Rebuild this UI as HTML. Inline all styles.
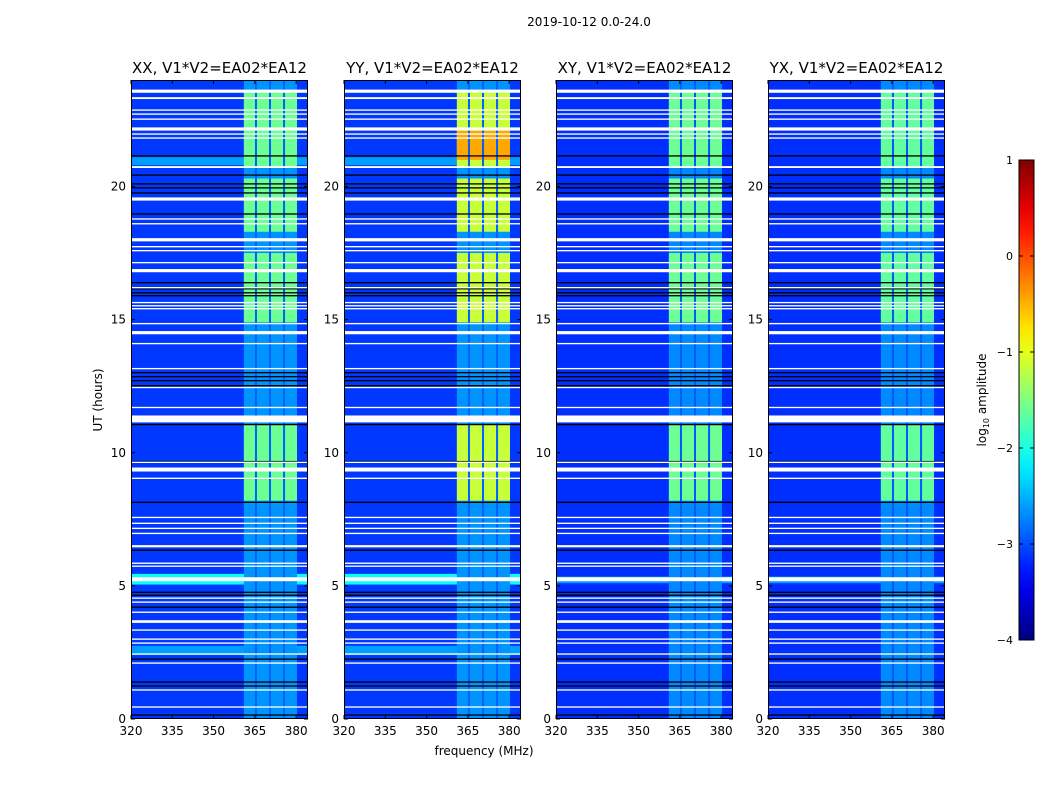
<!DOCTYPE html>
<html><head><meta charset="utf-8">
<style>
body{margin:0;background:#fff;}
svg{display:block;font-family:"DejaVu Sans","Liberation Sans",sans-serif;}
</style></head>
<body>
<svg id="fig" width="1050" height="800" viewBox="0 0 1050 800">
<text x="589" y="26" font-size="12" text-anchor="middle">2019-10-12 0.0-24.0</text>
<text x="484" y="755" font-size="12" text-anchor="middle">frequency (MHz)</text>
<text x="102" y="400" font-size="12" text-anchor="middle" transform="rotate(-90 102 400)">UT (hours)</text>
<g id="panels"></g>
<g id="cbar"></g>
</svg>
<script>
// ---- data ----
const panelTitles = ["XX, V1*V2=EA02*EA12","YY, V1*V2=EA02*EA12","XY, V1*V2=EA02*EA12","YX, V1*V2=EA02*EA12"];
const xTicks = [320,335,350,365,380];
const yTicks = [0,5,10,15,20];
const backgroundLevel = [-3.1,-3.1,-3.15,-3.15];
const rfiWeakLevel = [-2.65,-2.65,-2.7,-2.7];
const rfiStrongLevel = [-1.6,-1.15,-1.6,-1.65];
const rfiStrongSegments = [[8.2,11.05],[14.9,17.5],[18.3,20.3],[20.7,23.6]];
const yyHotSegment = [21.0,22.1];
const yyHotLevel = -0.45;
const rfiBlock = [361,380.3];
const channelGaps = [365.4,370.5,375.6];
const brightRows = [[5.05,5.45,-2.1,[0,1]],[2.4,2.75,-2.6,[0,1]],[20.8,21.1,-2.6,[0,1]],[5.1,5.35,-2.6,[2,3]]];
const flagHours = [23.58,23.32,22.87,22.72,22.53,22.16,21.97,21.82,20.73,19.53,18.78,18.60,18.00,17.74,17.59,17.14,16.84,16.20,15.64,15.52,15.41,14.85,14.51,14.10,13.16,12.45,11.70,11.27,9.64,9.37,9.04,7.57,7.35,7.16,6.97,6.49,5.85,5.74,5.25,4.54,4.39,4.01,3.66,3.34,3.00,2.85,2.44,2.10,1.09,0.45];
const flagWidths = [0.12,0.07,0.05,0.05,0.05,0.12,0.05,0.05,0.07,0.12,0.05,0.05,0.12,0.05,0.05,0.05,0.12,0.05,0.05,0.05,0.05,0.05,0.12,0.05,0.05,0.05,0.05,0.26,0.05,0.15,0.05,0.05,0.05,0.05,0.05,0.08,0.05,0.05,0.15,0.05,0.05,0.05,0.1,0.05,0.05,0.05,0.05,0.05,0.05,0.05];
const blackHours = [21.15,20.43,20.10,19.95,19.76,18.97,16.39,16.16,16.01,15.90,13.01,12.86,12.71,12.52,11.06,9.67,8.14,6.34,4.76,4.65,4.20,2.25,1.39,1.24,0.15];
const cbarTicks = [1,0,-1,-2,-3,-4];

// ---- helpers ----
const NS="http://www.w3.org/2000/svg";
function mk(tag,attrs,parent){const e=document.createElementNS(NS,tag);for(const k in attrs)e.setAttribute(k,attrs[k]);parent.appendChild(e);return e;}
function jet(v){
  let t=(v+4)/5; t=Math.max(0,Math.min(1,t));
  const r=Math.min(1,Math.max(0,1.5-Math.abs(4*t-3)));
  const g=Math.min(1,Math.max(0,1.5-Math.abs(4*t-2)));
  const b=Math.min(1,Math.max(0,1.5-Math.abs(4*t-1)));
  return `rgb(${Math.round(r*255)},${Math.round(g*255)},${Math.round(b*255)})`;
}
const panelX0=[131,344,556,768], panelW=177, yTop=80, yBot=719;
const fMin=320, fMax=384.3, hMax=24;
const panels=document.getElementById('panels');

panelTitles.forEach((title,p)=>{
  const x0=panelX0[p];
  const xs=f=>x0+(f-fMin)/(fMax-fMin)*panelW;
  const ys=h=>yBot-h/hMax*(yBot-yTop);
  const g=mk('g',{},panels);
  
  
  const bg=mk('rect',{x:x0,y:yTop,width:panelW,height:yBot-yTop,fill:jet(backgroundLevel[p])},g);
  
  
  brightRows.forEach(r=>{ if(!r[3].includes(p))return;
    const e=mk('rect',{x:x0,y:ys(r[1]),width:panelW,height:ys(r[0])-ys(r[1]),fill:jet(r[2])},g);
    
    
  });
  const wb=mk('rect',{x:xs(rfiBlock[0]),y:yTop,width:xs(rfiBlock[1])-xs(rfiBlock[0]),height:yBot-yTop,fill:jet(rfiWeakLevel[p])},g);
  
  
  rfiStrongSegments.forEach(s=>{
    const e=mk('rect',{x:xs(rfiBlock[0]),y:ys(s[1]),width:xs(rfiBlock[1])-xs(rfiBlock[0]),height:ys(s[0])-ys(s[1]),fill:jet(rfiStrongLevel[p])},g);
    
    
  });
  if(p===1){
    const e=mk('rect',{x:xs(rfiBlock[0]),y:ys(yyHotSegment[1]),width:xs(rfiBlock[1])-xs(rfiBlock[0]),height:ys(yyHotSegment[0])-ys(yyHotSegment[1]),fill:jet(yyHotLevel)},g);
    
    
  }
  channelGaps.forEach(f=>{
    const e=mk('rect',{x:xs(f)-1,y:yTop,width:2,height:yBot-yTop,fill:jet(backgroundLevel[p]+0.2)},g);
    
    
  });
  blackHours.forEach(h=>{
    const e=mk('rect',{x:x0,y:ys(h)-0.6,width:panelW,height:1.3,fill:'#000'},g);
    
    
  });
  flagHours.forEach((h,i)=>{
    const w=flagWidths[i];
    const e=mk('rect',{x:x0,y:ys(h+w/2),width:panelW,height:ys(h-w/2)-ys(h+w/2),fill:'#fff'},g);
    
    
  });
  const fr=mk('rect',{x:x0+0.5,y:yTop+0.5,width:panelW-1,height:yBot-yTop-1,fill:'none',stroke:'#000','stroke-width':1},g);
  
  
  const t=mk('text',{x:x0+panelW/2,y:73,'font-size':15,'text-anchor':'middle'},g);
  t.textContent=title;
  
  
  xTicks.forEach(v=>{
    const x=xs(v);
    mk('line',{x1:x,x2:x,y1:yBot,y2:yBot-4,stroke:'#000'},g);
    mk('line',{x1:x,x2:x,y1:yTop,y2:yTop+4,stroke:'#000'},g);
    const l=mk('text',{x:x,y:yBot+16,'font-size':12,'text-anchor':'middle'},g);
    l.textContent=v;
    
    
  });
  yTicks.forEach(v=>{
    const y=ys(v);
    mk('line',{x1:x0,x2:x0+4,y1:y,y2:y,stroke:'#000'},g);
    mk('line',{x1:x0+panelW,x2:x0+panelW-4,y1:y,y2:y,stroke:'#000'},g);
    const l=mk('text',{x:x0-5,y:y+4,'font-size':12,'text-anchor':'end'},g);
    l.textContent=v;
    
    
  });
});

const cb=document.getElementById('cbar');
const cbX=1019,cbW=15,cbTop=160,cbBot=640;
const cy=v=>cbBot-(v+4)/5*(cbBot-cbTop);
const defs=mk('defs',{},cb);
const grad=mk('linearGradient',{id:'jetg',x1:0,y1:1,x2:0,y2:0},defs);
for(let i=0;i<=20;i++){mk('stop',{offset:i/20,'stop-color':jet(-4+i*5/20)},grad);}
const bar=mk('rect',{x:cbX,y:cbTop,width:cbW,height:cbBot-cbTop,fill:'url(#jetg)',stroke:'#000'},cb);


cbarTicks.forEach(v=>{
  const y=cy(v);
  mk('line',{x1:cbX,x2:cbX+4,y1:y,y2:y,stroke:'#000'},cb);
  mk('line',{x1:cbX+cbW,x2:cbX+cbW-4,y1:y,y2:y,stroke:'#000'},cb);
  const l=mk('text',{x:1013,y:y+4,'font-size':11,'text-anchor':'end'},cb);
  l.textContent=v<0?'\u2212'+(-v):String(v);
  
  
});
const cl=mk('text',{x:986,y:400,'font-size':12,'text-anchor':'middle',transform:'rotate(-90 986 400)'},cb);
cl.innerHTML='log<tspan font-size="8" dy="3">10</tspan><tspan dy="-3"> amplitude</tspan>';


</script>
</body></html>
